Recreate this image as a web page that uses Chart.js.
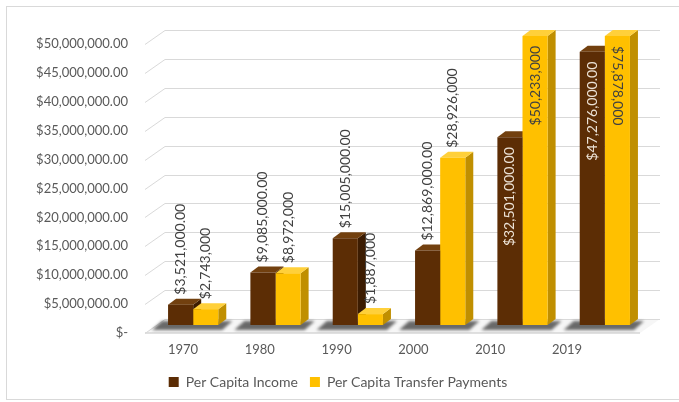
<!DOCTYPE html>
<html lang="en">
<head>
<meta charset="UTF-8">
<title>Per Capita Income and Transfer Payments</title>
<style>
  body { margin: 0; background: #fff; }
  .chart-container { position: relative; width: 679px; height: 402px; }
</style>
</head>
<body>
<div class="chart-container">
  <canvas id="incomeChart"></canvas>
</div>

<script src="https://cdn.jsdelivr.net/npm/chart.js"></script>
<script>
// values per decade
const years = ['1970', '1980', '1990', '2000', '2010', '2019'];
const perCapitaIncome = [3521000, 9085000, 15005000, 12869000, 32501000, 47276000];
const transferPayments = [2743000, 8972000, 1887000, 28926000, 50233000, 75878000];
const axisMax = 50000000;
const axisStep = 5000000;

const FONT = "Lato, sans-serif";
const DX = 8, DY = 6;          // depth of the fake 3d bars
const LABEL_GAP = 10;

const faces = [
    { front: '#5C2D05', top: '#72400F', side: '#3C1C02' },
    { front: '#FFC000', top: '#FFD03A', side: '#C08F00' }
];

const money = (v, decimals) =>
    '$' + v.toLocaleString('en-US', { minimumFractionDigits: decimals, maximumFractionDigits: decimals });
const labelFormat = [v => money(v, 2), v => money(v, 0)];

// frame, floor and the slanted back-wall gridlines
const wallPlugin = {
    id: 'wall',
    beforeDraw(chart) {
        const { ctx, chartArea: a, scales: { y } } = chart;
        ctx.save();
        ctx.fillStyle = '#fff';
        ctx.fillRect(0, 0, chart.width, chart.height);
        ctx.strokeStyle = '#d9d9d9';
        ctx.lineWidth = 1;
        ctx.strokeRect(6.5, 6.5, chart.width + 10, chart.height - 9);

        const y0 = y.getPixelForValue(0);
        ctx.fillStyle = '#f6f6f6';
        ctx.beginPath();
        ctx.moveTo(a.left - 7, y0 + 8);
        ctx.lineTo(a.left + 13, y0 - 6);
        ctx.lineTo(a.right + 14, y0 - 6);
        ctx.lineTo(a.right - 6, y0 + 8);
        ctx.closePath();
        ctx.fill();
        ctx.strokeStyle = '#d6d6d6';
        ctx.lineWidth = 1.5;
        ctx.beginPath();
        ctx.moveTo(a.left - 7, y0 + 8);
        ctx.lineTo(a.right - 6, y0 + 8);
        ctx.stroke();

        ctx.strokeStyle = '#d9d9d9';
        ctx.lineWidth = 1;
        y.ticks.forEach(t => {
            const py = Math.round(y.getPixelForValue(t.value)) + 0.5;
            ctx.beginPath();
            ctx.moveTo(a.left - 7, py + 8);
            ctx.lineTo(a.left + 13, py - 6);
            ctx.lineTo(a.right + 14, py - 6);
            ctx.stroke();
        });
        ctx.restore();
    }
};

// floor shadows plus top and side faces, drawn before the front faces
const depthPlugin = {
    id: 'depth',
    beforeDatasetsDraw(chart) {
        const { ctx, chartArea: a } = chart;
        const inc = chart.getDatasetMeta(0).data;
        const tr = chart.getDatasetMeta(1).data;
        ctx.save();
        ctx.filter = 'blur(1.5px)';
        ctx.fillStyle = 'rgba(70,70,70,0.8)';
        inc.forEach((bar, i) => {
            const x0 = bar.x - bar.width / 2;
            const x1 = tr[i].x + tr[i].width / 2;
            const yb = bar.base;
            ctx.beginPath();
            ctx.moveTo(x0 - 16, yb + 5);
            ctx.lineTo(x1 + 4, yb + 5);
            ctx.lineTo(x1 + DX + 6, yb - 4);
            ctx.lineTo(x0 - 6, yb - 4);
            ctx.closePath();
            ctx.fill();
        });
        ctx.filter = 'none';

        [inc, tr].forEach((bars, d) => {
            bars.forEach(bar => {
                const x0 = bar.x - bar.width / 2;
                const x1 = bar.x + bar.width / 2;
                const top = Math.max(bar.y, a.top);
                const bottom = bar.base;
                ctx.fillStyle = faces[d].side;
                ctx.beginPath();
                ctx.moveTo(x1, top);
                ctx.lineTo(x1 + DX, top - DY);
                ctx.lineTo(x1 + DX, bottom - DY);
                ctx.lineTo(x1, bottom);
                ctx.closePath();
                ctx.fill();
                ctx.fillStyle = faces[d].top;
                ctx.beginPath();
                ctx.moveTo(x0, top);
                ctx.lineTo(x0 + DX, top - DY);
                ctx.lineTo(x1 + DX, top - DY);
                ctx.lineTo(x1, top);
                ctx.closePath();
                ctx.fill();
            });
        });
        ctx.restore();
    }
};

// vertical value labels: above the bar when they fit, otherwise inside
const valueLabels = {
    id: 'valueLabels',
    afterDatasetsDraw(chart) {
        const { ctx, chartArea: a } = chart;
        ctx.save();
        ctx.font = `14px ${FONT}`;
        ctx.textBaseline = 'middle';
        chart.data.datasets.forEach((ds, d) => {
            chart.getDatasetMeta(d).data.forEach((bar, i) => {
                const text = labelFormat[d](ds.data[i]);
                const w = ctx.measureText(text).width;
                const top = Math.max(bar.y, a.top);
                const inside = top - LABEL_GAP - w < a.top;
                const flipped = inside && ds.data[i] > axisMax * 1.2;
                ctx.save();
                if (!inside) {
                    ctx.translate(bar.x, top - LABEL_GAP);
                    ctx.rotate(-Math.PI / 2);
                    ctx.textAlign = 'left';
                } else if (flipped) {
                    ctx.translate(bar.x, top + LABEL_GAP);
                    ctx.rotate(Math.PI / 2);
                    ctx.textAlign = 'left';
                } else {
                    ctx.translate(bar.x, top + LABEL_GAP);
                    ctx.rotate(-Math.PI / 2);
                    ctx.textAlign = 'right';
                }
                ctx.fillStyle = inside && d === 0 ? '#ece2d6' : '#404040';
                ctx.fillText(text, 0, 0);
                ctx.restore();
            });
        });
        ctx.restore();
    }
};

const ctx = document.getElementById('incomeChart').getContext('2d');
new Chart(ctx, {
    type: 'bar',
    data: {
        labels: years,
        datasets: [
            {
                label: 'Per Capita Income',
                data: perCapitaIncome,
                backgroundColor: faces[0].front,
                clip: 0
            },
            {
                label: 'Per Capita Transfer Payments',
                data: transferPayments,
                backgroundColor: faces[1].front,
                clip: 0
            }
        ]
    },
    options: {
        responsive: true,
        maintainAspectRatio: false,
        animation: false,
        layout: { padding: { left: 30, right: 33, top: 36, bottom: 3 } },
        datasets: { bar: { categoryPercentage: 0.61, barPercentage: 1.0 } },
        plugins: {
            tooltip: { enabled: false },
            legend: {
                position: 'bottom',
                labels: {
                    boxWidth: 10,
                    boxHeight: 10,
                    padding: 12,
                    color: '#595959',
                    font: { family: FONT, size: 14 }
                }
            }
        },
        scales: {
            x: { display: false },
            // year labels sit on a separate axis so they can follow the perspective
            xl: {
                type: 'linear',
                position: 'bottom',
                offset: false,
                min: -0.4036,
                max: 6.0284,
                grid: { display: false, drawTicks: false },
                border: { display: false },
                afterBuildTicks: axis => { axis.ticks = years.map((_, i) => ({ value: i })); },
                afterFit: axis => { axis.height = 38; },
                ticks: {
                    padding: 17,
                    color: '#595959',
                    font: { family: FONT, size: 13 },
                    callback: v => years[v]
                }
            },
            y: {
                min: 0,
                max: axisMax,
                grid: { display: false, drawTicks: false },
                border: { display: false },
                afterFit: axis => { axis.width = 122; },
                ticks: {
                    stepSize: axisStep,
                    padding: 24,
                    labelOffset: 8,
                    color: '#595959',
                    font: { family: FONT, size: 13 },
                    callback: v => v === 0 ? '$-' : money(v, 2)
                }
            }
        }
    },
    plugins: [wallPlugin, depthPlugin, valueLabels]
});
</script>
</body>
</html>
